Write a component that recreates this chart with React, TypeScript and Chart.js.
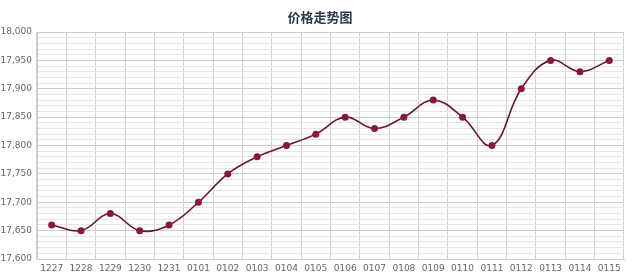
import React, { useEffect, useRef } from 'react';
import { Chart, registerables } from 'chart.js';

Chart.register(...registerables);

const chartTitle = '价格走势图';
const categories = ['1227', '1228', '1229', '1230', '1231', '0101', '0102', '0103', '0104', '0105', '0106', '0107', '0108', '0109', '0110', '0111', '0112', '0113', '0114', '0115'];
const prices = [17660, 17650, 17680, 17650, 17660, 17700, 17750, 17780, 17800, 17820, 17850, 17830, 17850, 17880, 17850, 17800, 17900, 17950, 17930, 17950];
const yMin = 17600;
const yMax = 18000;
const yMinorStep = 10;
const yMajorStep = 50;

const titlePlugin = {
  id: 'customTitle',
  afterDraw(chart: any) {
    const ctx = chart.ctx;
    ctx.save();
    ctx.font = 'bold 13px "Noto Sans CJK SC", sans-serif';
    ctx.fillStyle = '#2b3a4c';
    ctx.textAlign = 'center';
    ctx.textBaseline = 'middle';
    ctx.fillText(chartTitle, 320, 17);
    ctx.restore();
  },
};

export default function App() {
  const ref = useRef<HTMLCanvasElement | null>(null);
  useEffect(() => {
    document.body.style.margin = '0';
    if (!ref.current) return;
    const chart = new Chart(ref.current, {
      type: 'line',
      data: {
        labels: categories,
        datasets: [
          {
            data: prices,
            borderColor: '#6e1030',
            backgroundColor: '#8a1638',
            borderWidth: 1.6,
            pointRadius: 3.5,
            pointBackgroundColor: '#8a1638',
            pointBorderColor: '#8a1638',
            pointBorderWidth: 0,
            tension: 0.4,
            fill: false,
          },
        ],
      },
      options: {
        responsive: false,
        animation: false,
        devicePixelRatio: 1,
        layout: { padding: { left: 0, right: 16, top: 32, bottom: 0 } },
        plugins: {
          legend: { display: false },
          title: { display: false },
          tooltip: { enabled: false },
        },
        scales: {
          x: {
            type: 'category',
            offset: true,
            grid: { offset: true, color: '#d0d0d0', lineWidth: 1, drawTicks: false },
            border: { color: '#c8c8c8' },
            ticks: {
              color: '#666',
              font: { size: 9, family: '"DejaVu Sans", sans-serif' },
              padding: 4,
              maxRotation: 0,
              autoSkip: false,
            },
            afterFit: (s: any) => {
              s.height = 21;
            },
          },
          y: {
            min: yMin,
            max: yMax,
            ticks: {
              stepSize: yMinorStep,
              color: '#666',
              font: { size: 9, family: '"DejaVu Sans", sans-serif' },
              padding: 5,
              autoSkip: false,
              callback: (v: any) => (Number(v) % yMajorStep === 0 ? Number(v).toLocaleString('en-US') : ''),
            },
            grid: {
              drawTicks: false,
              color: (c: any) => (c.tick && c.tick.value % yMajorStep === 0 ? '#cbcbcb' : '#e4e4e4'),
            },
            border: { color: '#c8c8c8' },
            afterFit: (s: any) => {
              s.width = 37;
            },
          },
        },
      },
      plugins: [titlePlugin],
    });
    return () => chart.destroy();
  }, []);
  return (
    <div style={{ width: 640, height: 280, background: '#fff' }}>
      <canvas ref={ref} width={640} height={280} style={{ display: 'block' }} />
    </div>
  );
}
